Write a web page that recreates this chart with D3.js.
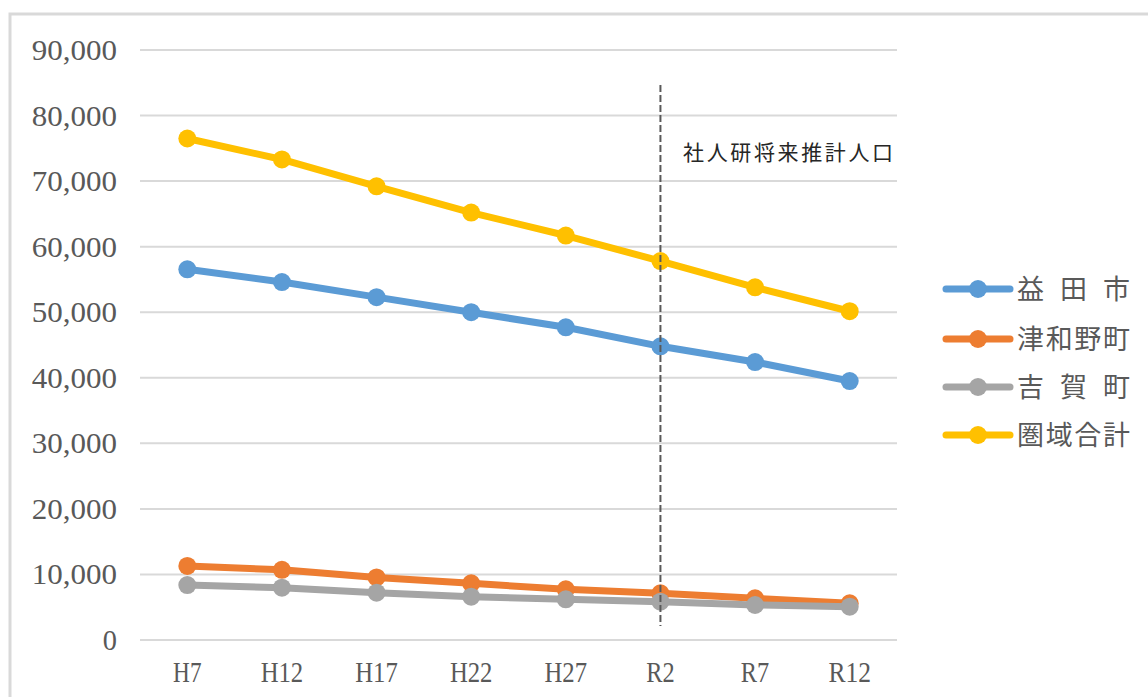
<!DOCTYPE html>
<html>
<head>
<meta charset="utf-8">
<script src="https://cdn.jsdelivr.net/npm/d3@7"></script>
<style>
  html, body { margin: 0; padding: 0; background: #fff; }
  svg { display: block; }
</style>
</head>
<body>
<svg id="chart" width="1148" height="697"></svg>
<script>
// data
var categories = ["H7", "H12", "H17", "H22", "H27", "R2", "R7", "R12"];
var seriesNames = ["益 田 市", "津和野町", "吉 賀 町", "圏域合計"];
var masuda   = [56550, 54600, 52300, 50000, 47700, 44800, 42400, 39500];
var tsuwano  = [11300, 10700, 9550, 8640, 7730, 7120, 6360, 5590];
var yoshika  = [8380, 7980, 7210, 6600, 6200, 5840, 5340, 5080];
var total    = [76500, 73300, 69200, 65200, 61700, 57800, 53800, 50150];
var yTicks   = [0, 10000, 20000, 30000, 40000, 50000, 60000, 70000, 80000, 90000];
var forecastStart = "R2";
var forecastLabel = "社人研将来推計人口";

var colors = ["#5b9bd5", "#ed7d31", "#a5a5a5", "#ffc000"];
var seriesValues = [masuda, tsuwano, yoshika, total];

var svg = d3.select("#chart");
var numFont = "'Liberation Serif', 'DejaVu Serif', serif";
var jpFont = "'Noto Sans CJK JP', 'Noto Sans', sans-serif";

// outer frame
svg.append("rect")
  .attr("x", 10).attr("y", 14)
  .attr("width", 1160).attr("height", 700)
  .attr("fill", "#fff")
  .attr("stroke", "#d9d9d9")
  .attr("stroke-width", 3);

var x = d3.scaleBand().domain(categories).range([140, 897]);
var y = d3.scaleLinear().domain([0, 90000]).range([640, 50]);

// gridlines
svg.append("g")
  .selectAll("line")
  .data(yTicks)
  .join("line")
  .attr("x1", 140).attr("x2", 897)
  .attr("y1", function (d) { return y(d); })
  .attr("y2", function (d) { return y(d); })
  .attr("stroke", "#d9d9d9")
  .attr("stroke-width", 2);

// y labels
var fmt = d3.format(",");
svg.append("g")
  .selectAll("text")
  .data(yTicks)
  .join("text")
  .attr("x", 117)
  .attr("y", function (d) { return y(d) + 10; })
  .attr("text-anchor", "end")
  .attr("font-family", numFont)
  .attr("font-size", 30)
  .attr("fill", "#595959")
  .attr("textLength", function (d) { return fmt(d).length * 14.2; })
  .attr("lengthAdjust", "spacingAndGlyphs")
  .text(function (d) { return fmt(d); });

// x labels
svg.append("g")
  .selectAll("text")
  .data(categories)
  .join("text")
  .attr("x", function (d) { return x(d) + x.bandwidth() / 2; })
  .attr("y", 682)
  .attr("text-anchor", "middle")
  .attr("font-family", numFont)
  .attr("font-size", 30)
  .attr("fill", "#595959")
  .attr("textLength", function (d) { return d.length * 14.2; })
  .attr("lengthAdjust", "spacingAndGlyphs")
  .text(function (d) { return d; });

var cx = function (i) { return x(categories[i]) + x.bandwidth() / 2; };

var line = d3.line()
  .x(function (d, i) { return cx(i); })
  .y(function (d) { return y(d); });

seriesValues.forEach(function (vals, k) {
  var g = svg.append("g");
  g.append("path")
    .datum(vals)
    .attr("d", line)
    .attr("fill", "none")
    .attr("stroke", colors[k])
    .attr("stroke-width", 7)
    .attr("stroke-linejoin", "round")
    .attr("stroke-linecap", "round");
  g.selectAll("circle")
    .data(vals)
    .join("circle")
    .attr("cx", function (d, i) { return cx(i); })
    .attr("cy", function (d) { return y(d); })
    .attr("r", 9)
    .attr("fill", colors[k]);
});

// forecast divider
var fx = x(forecastStart) + x.bandwidth() / 2;
svg.append("line")
  .attr("x1", fx).attr("x2", fx)
  .attr("y1", 85).attr("y2", 626)
  .attr("stroke", "#595959")
  .attr("stroke-width", 2)
  .attr("stroke-dasharray", "7,3");

svg.append("text")
  .attr("x", 683)
  .attr("y", 160)
  .attr("font-family", jpFont)
  .attr("font-size", 21)
  .attr("fill", "#262626")
  .attr("textLength", 210)
  .attr("lengthAdjust", "spacing")
  .text(forecastLabel);

// legend
var legendY = [289, 339, 387, 435];
var legend = svg.append("g")
  .selectAll("g")
  .data(seriesNames)
  .join("g")
  .attr("transform", function (d, i) { return "translate(0," + legendY[i] + ")"; });

legend.append("line")
  .attr("x1", 946).attr("x2", 1010)
  .attr("y1", 0).attr("y2", 0)
  .attr("stroke", function (d, i) { return colors[i]; })
  .attr("stroke-width", 7)
  .attr("stroke-linecap", "round");

legend.append("circle")
  .attr("cx", 978).attr("cy", 0).attr("r", 9)
  .attr("fill", function (d, i) { return colors[i]; });

legend.append("text")
  .attr("x", 1017)
  .attr("y", 10)
  .attr("font-family", jpFont)
  .attr("font-size", 27)
  .attr("fill", "#595959")
  .attr("textLength", 113)
  .attr("lengthAdjust", "spacing")
  .text(function (d) { return d; });
</script>
</body>
</html>
